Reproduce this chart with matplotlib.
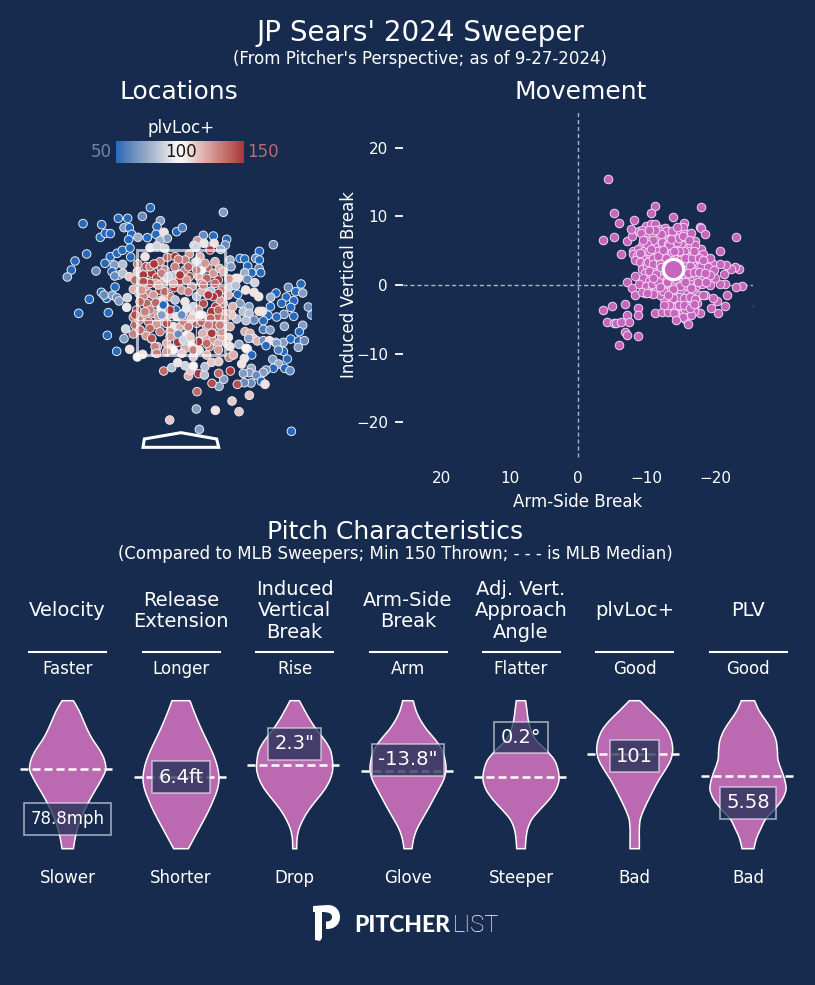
import matplotlib
matplotlib.use("Agg")
import matplotlib.pyplot as plt
import numpy as np
import seaborn as sns
from matplotlib.path import Path
from matplotlib.patches import PathPatch, Polygon

BG = "#162b4e"
PINK = "#bb69b0"
DOT = "#c766bf"

# pitch locations, in positions (y runs downward)
loc_x = [
  99, 155, 205, 233, 277, 301, 331, 520, 222, 238, 321, 380,
  397, 151, 166, 181, 245, 236, 264, 292, 318, 342, 352, 330,
  110, 75, 64, 52, 138, 165, 181, 201, 217, 240, 242, 193,
  186, 207, 194, 218, 219, 195, 154, 118, 170, 187, 200, 207,
  162, 86, 175, 230, 232, 172, 227, 222, 200, 239, 262, 278,
  460, 490, 530, 526, 442, 432, 462, 492, 438, 512, 480, 300,
  320, 344, 285, 628, 670, 540, 570, 584, 617, 628, 543, 593,
  627, 632, 605, 584, 592, 614, 565, 557, 540, 557, 563, 587,
  612, 626, 678, 662, 715, 753, 737, 758, 709, 731, 695, 661,
  722, 775, 785, 702, 731, 680, 654, 637, 627, 597, 570, 580,
  597, 612, 560, 588, 640, 703, 758, 748, 640, 660, 585, 600,
  610, 596, 622, 640, 658, 677, 700, 722, 745, 763, 745, 680,
  648, 700, 685, 567, 592, 588, 605, 668, 712, 686, 704, 720,
  670, 648, 640, 604, 598, 580, 619, 634, 645, 603, 583, 575,
  583, 562, 541, 521, 506, 507, 486, 445, 463, 415, 421, 341,
  365, 383, 405, 430, 465, 485, 506, 537, 550, 441, 439, 496,
  546, 567, 598, 359, 448, 724,
  352, 375, 418, 405, 385, 435, 450, 263, 288, 314, 334, 305,
  280, 262, 238, 255, 274, 294, 320, 340, 250, 267, 295, 329,
  318, 285, 372, 388, 418, 445, 473, 455, 490, 508, 520, 505,
  537, 470, 383, 365, 405, 375, 350, 370, 395, 425, 455, 480,
  495, 483, 515, 535, 473, 498, 440, 415, 360, 335, 310, 280,
  290, 317, 345, 375, 405, 430, 460, 497, 485, 520, 548, 545,
  528, 505, 265, 250, 285, 310, 333, 340, 378, 380, 355, 400,
  430, 458, 482, 295, 320, 345, 255, 268, 370, 390, 415, 440,
  470, 495, 520, 385, 360, 250, 270, 288, 305, 322, 316, 350,
  365, 383, 405, 425, 447, 447, 470, 488, 488, 478, 505, 505,
  535, 515, 540, 458, 410, 370, 400, 430, 470, 440, 330, 410,
  300, 345, 325, 345, 270, 300, 325, 350, 400, 425, 455, 505,
  525, 470, 430, 395, 350, 330, 300, 415, 465, 495, 440, 510,
  455, 410, 445, 360, 515, 530, 312, 335, 280, 300, 275, 355,
  390, 280, 460, 505, 490, 475, 260, 255, 285, 450, 395, 335,
  360, 270, 305, 315, 320, 445, 420, 485, 540, 510, 475, 415,
]
loc_y = [
  341, 344, 325, 325, 319, 293, 332, 307, 353, 353, 350, 365,
  353, 382, 370, 371, 373, 389, 382, 383, 373, 367, 385, 392,
  432, 453, 480, 501, 483, 460, 440, 430, 421, 414, 441, 465,
  485, 495, 498, 463, 490, 531, 547, 568, 565, 556, 563, 573,
  555, 610, 608, 592, 563, 676, 657, 686, 724, 718, 741, 733,
  376, 378, 388, 405, 392, 406, 400, 400, 412, 418, 420, 413,
  408, 415, 440, 424, 404, 450, 445, 447, 445, 450, 470, 468,
  475, 488, 488, 488, 508, 518, 505, 505, 530, 527, 553, 540,
  547, 560, 549, 562, 532, 522, 545, 549, 561, 572, 580, 590,
  592, 591, 615, 613, 619, 621, 616, 604, 604, 590, 580, 605,
  610, 630, 627, 632, 632, 649, 646, 665, 658, 660, 665, 670,
  685, 685, 693, 692, 692, 697, 697, 687, 693, 692, 712, 700,
  707, 724, 720, 703, 717, 715, 735, 748, 747, 762, 775, 782,
  775, 780, 787, 775, 788, 790, 796, 814, 823, 819, 818, 762,
  745, 823, 783, 808, 790, 829, 820, 791, 795, 798, 782, 783,
  773, 758, 767, 768, 770, 757, 755, 742, 735, 845, 897, 901,
  873, 905, 856, 930, 958, 964,
  442, 440, 432, 450, 448, 458, 440, 462, 470, 463, 475, 490,
  497, 485, 500, 510, 517, 518, 503, 518, 538, 550, 549, 540,
  520, 530, 533, 513, 500, 498, 473, 480, 490, 475, 485, 510,
  507, 505, 490, 497, 480, 470, 505, 520, 540, 530, 520, 545,
  520, 543, 540, 555, 555, 558, 560, 545, 560, 570, 555, 560,
  580, 578, 590, 570, 575, 590, 581, 590, 605, 580, 590, 615,
  610, 620, 608, 622, 615, 610, 595, 585, 600, 620, 615, 610,
  615, 617, 625, 635, 643, 638, 645, 630, 650, 650, 652, 640,
  650, 645, 655, 673, 665, 672, 660, 677, 687, 710, 728, 700,
  715, 697, 715, 700, 693, 720, 690, 670, 693, 710, 700, 720,
  682, 680, 650, 670, 675, 720, 690, 740, 735, 455, 455, 510,
  470, 480, 525, 545, 575, 600, 620, 640, 635, 625, 635, 600,
  625, 700, 720, 730, 725, 665, 655, 470, 460, 455, 480, 570,
  545, 595, 600, 680, 665, 700, 462, 490, 495, 520, 540, 500,
  495, 515, 525, 550, 560, 555, 600, 615, 605, 615, 615, 615,
  600, 660, 685, 710, 730, 695, 680, 670, 710, 645, 645, 650,
]
loc_plv = [
  55, 55, 55, 55, 70, 55, 75, 75, 75, 55, 55, 55,
  65, 55, 55, 55, 55, 55, 80, 55, 55, 105, 75, 80,
  55, 55, 55, 70, 70, 55, 55, 55, 55, 55, 55, 75,
  60, 60, 70, 85, 85, 55, 55, 55, 55, 75, 70, 75,
  70, 55, 55, 95, 90, 55, 90, 75, 55, 105, 100, 105,
  70, 55, 55, 70, 120, 90, 95, 105, 90, 80, 140, 95,
  90, 90, 105, 55, 70, 80, 55, 60, 70, 55, 75, 60,
  70, 55, 55, 80, 70, 90, 105, 105, 90, 85, 55, 105,
  105, 105, 55, 80, 70, 55, 55, 75, 55, 55, 55, 55,
  60, 70, 70, 70, 55, 55, 60, 105, 105, 75, 75, 85,
  85, 70, 85, 85, 55, 75, 75, 55, 65, 75, 115, 115,
  110, 75, 115, 70, 105, 75, 75, 55, 55, 70, 75, 75,
  55, 55, 65, 80, 115, 100, 55, 75, 55, 80, 55, 70,
  55, 70, 75, 80, 75, 75, 70, 60, 105, 70, 70, 105,
  105, 135, 140, 75, 130, 75, 135, 145, 85, 115, 110, 130,
  85, 105, 90, 100, 85, 110, 110, 125, 115, 130, 75, 105,
  110, 110, 110, 110, 75, 55,
  130, 145, 120, 125, 125, 130, 115, 125, 135, 145, 135, 145,
  145, 110, 110, 130, 145, 130, 135, 120, 115, 120, 125, 145,
  120, 120, 145, 145, 135, 115, 130, 100, 120, 115, 115, 145,
  120, 130, 90, 85, 125, 125, 105, 115, 120, 120, 125, 145,
  130, 85, 125, 115, 145, 145, 85, 125, 125, 105, 120, 125,
  130, 130, 120, 85, 105, 90, 135, 145, 145, 125, 115, 110,
  115, 130, 145, 130, 120, 125, 100, 55, 55, 105, 110, 115,
  105, 105, 130, 130, 120, 125, 130, 125, 105, 115, 120, 135,
  125, 130, 125, 70, 120, 125, 130, 120, 140, 120, 125, 115,
  105, 145, 115, 100, 145, 105, 120, 145, 120, 125, 115, 120,
  105, 115, 115, 115, 100, 100, 90, 110, 115, 95, 125, 120,
  125, 125, 115, 130, 130, 125, 120, 135, 125, 110, 130, 130,
  120, 130, 125, 110, 120, 125, 130, 130, 120, 115, 125, 120,
  115, 95, 120, 120, 120, 110, 145, 125, 145, 135, 120, 90,
  145, 135, 125, 145, 145, 145, 145, 135, 125, 100, 70, 75,
  145, 130, 135, 125, 125, 145, 110, 145, 105, 125, 125, 125,
]

# sweeper movement, inches
arm_side_break = [
  -4.3, -11.3, -18.0, -5.3, -10.7, -5.9, -8.1, -13.8, -15.4, -17.8, -18.0, -18.6,
  -23.0, -3.7, -5.2, -7.1, -7.8, -7.7, -20.8, -6.2, -7.2, -8.3, -7.8, -8.3,
  -9.7, -6.8, -4.9, -3.6, -8.8, -7.1, -8.8, -11.2, -12.3, -13.1, -4.2, -5.2,
  -5.6, -6.3, -7.4, -6.8, -7.2, -8.7, -5.9, -15.6, -16.0, -17.8, -20.5, -19.4,
  -21.4, -21.7, -20.3, -19.7, -18.5, -24.0, -23.0, -21.4, -20.8, -21.3, -23.5, -22.9,
  -22.4, -21.6, -20.7, -19.5, -20.0, -18.8, -26.3,
  -9.9, -10.6, -11.2, -12.0, -12.7, -13.2, -14.6, -15.3, -16.0, -8.9, -9.3, -11.8,
  -9.2, -10.2, -10.9, -11.6, -12.6, -13.3, -14.1, -15.0, -15.9, -16.3, -17.1, -9.7,
  -9.4, -10.5, -11.3, -12.2, -13.0, -14.2, -15.2, -16.1, -17.2, -18.0, -8.0, -8.8,
  -8.0, -8.6, -9.5, -10.4, -11.2, -12.2, -13.1, -14.3, -15.0, -16.0, -17.0, -18.3,
  -8.3, -9.1, -9.9, -10.8, -11.7, -12.5, -15.0, -15.8, -16.6, -17.6, -18.6, -19.2,
  -9.3, -10.0, -11.0, -11.8, -15.7, -16.4, -17.3, -18.0, -19.0, -19.8, -9.8, -10.6,
  -9.5, -10.3, -11.1, -12.1, -13.0, -13.8, -14.8, -15.7, -16.6, -17.4, -18.4, -19.2,
  -8.9, -9.9, -10.8, -11.6, -12.5, -13.4, -14.4, -15.4, -16.3, -17.2, -18.1, -19.2,
  -9.4, -10.6, -11.4, -12.3, -13.3, -14.2, -15.0, -15.9, -16.8, -17.6, -18.2, -12.8,
  -12.8, -13.6, -14.4, -15.0, -15.7, -16.6, -17.4, -14.2, -15.2, -16.0, -17.0, -13.1,
  -14.6, -15.3, -16.2, -17.0, -15.8, -16.5, -14.9, -15.6, -13.5, -12.6, -11.9, -11.0,
  -10.2, -10.9, -11.5, -12.3, -13.1, -14.0, -14.9, -15.5, -16.3, -17.1, -12.7, -14.5,
  -9.6, -10.3, -11.0, -11.9, -12.9, -13.7, -14.7, -15.6, -16.7, -17.6, -18.2, -9.0,
  -10.4, -11.4, -12.1, -12.6, -15.2, -16.0, -16.9, -17.7, -18.5, -10.8, -11.6, -12.4,
  -13.7, -14.1, -14.9, -15.6, -16.5, -17.5, -18.7, -10.0, -13.0, -13.9, -14.7, -15.5,
  -16.3, -17.1, -13.9, -14.7, -15.5, -16.3, -13.3, -12.5, -14.0, -15.3, -11.0, -10.0,
  -12.9, -13.7, -14.5, -15.4, -16.5, -13.3, -14.0, -14.8, -12.1, -11.3, -10.4, -9.5,
  -10.7, -11.7, -12.4, -13.5, -15.3, -16.2, -17.0, -13.2, -12.0, -10.9, -16.9, -14.3,
]
vertical_break = [
  15.4, 11.5, 11.3, 10.5, 10.5, 9.1, 9.4, 9.9, 9.1, 8.4, 8.3, 7.5,
  7.0, 6.5, 7.0, 6.4, 7.1, 8.1, 4.9, 4.5, 0.5, 1.3, -0.4, -1.4,
  -1.2, -2.7, -3.1, -3.7, -3.3, -4.4, -4.4, -4.1, -4.0, -4.0, -5.4, -5.6,
  -5.6, -5.4, -5.4, -6.8, -7.3, -7.5, -8.7, -5.0, -5.7, -4.1, -4.1, -3.3,
  -3.0, -1.5, -2.4, -1.9, -1.4, -0.2, -0.3, 0.1, 0.1, 1.6, 2.3, 2.6,
  2.4, 2.9, 3.0, 3.2, 1.0, 1.7, -3.0,
  8.6, 8.9, 8.9, 8.2, 8.3, 7.6, 7.8, 8.4, 7.4, 7.8, 8.0, 7.9,
  7.6, 7.2, 7.4, 6.7, 7.2, 6.6, 7.0, 6.5, 6.9, 6.2, 6.4, 6.6,
  5.9, 6.0, 5.7, 5.6, 5.2, 5.5, 5.9, 5.4, 5.2, 5.2, 4.9, 5.2,
  4.5, 4.2, 4.4, 4.7, 4.4, 4.5, 4.0, 4.5, 4.3, 4.1, 4.7, 4.5,
  3.6, 3.4, 3.0, 3.7, 3.4, 3.5, 3.5, 3.0, 3.4, 3.8, 3.2, 3.9,
  2.4, 2.7, 2.2, 1.9, 2.2, 2.8, 2.2, 2.7, 2.6, 2.2, 1.7, 1.4,
  1.0, 0.6, 1.2, 1.0, 0.9, 1.3, 0.7, 1.1, 0.6, 1.3, 1.0, 1.4,
  0.2, -0.1, -0.4, 0.0, -0.5, -0.1, 0.3, -0.3, 0.2, -0.2, 0.1, 0.0,
  -1.0, -1.2, -0.9, -1.4, -1.0, -1.4, -0.9, -1.3, -1.0, -1.4, -1.5, -1.7,
  -2.0, -2.5, -2.2, -2.7, -2.3, -2.2, -2.6, -3.2, -3.3, -3.0, -3.4, -1.9,
  -3.7, -3.9, -3.7, -3.8, -4.3, -4.3, -3.0, -3.5, -0.7, -2.0, -1.4, -1.3,
  3.3, 4.0, 5.0, 6.2, 6.0, 3.9, 3.6, 5.0, 6.1, 5.8, 4.9, 6.3,
  5.0, 4.9, 3.0, 3.0, 3.9, 4.8, 4.9, 3.9, 3.9, 4.0, 3.7, 4.7,
  2.1, 1.6, 2.6, 0.3, 1.6, 1.7, 1.9, 1.9, 1.8, 0.2, 0.4, -0.9,
  0.1, 0.9, -0.2, 0.4, -0.4, 0.5, 0.5, -1.1, 0.4, -0.6, -1.7, -1.9,
  -1.8, -2.0, -1.9, -2.9, -2.9, -3.3, -2.9, -2.9, -4.1, -4.6, 6.5, 6.0,
  7.9, 7.8, 8.5, 7.5, 7.6, 5.9, 5.0, 6.8, 7.5, 8.0, 8.0, 6.6,
  5.3, 4.2, 5.1, 6.7, 7.1, 6.6, 5.0, -1.5, -0.3, 1.0, -2.8, -5.1,
]
avg_break = -13.8
avg_vertical = 2.3

headers = ["Velocity", "Release\nExtension", "Induced\nVertical\nBreak", "Arm-Side\nBreak",
           "Adj. Vert.\nApproach\nAngle", "plvLoc+", "PLV"]
top_words = ["Faster", "Longer", "Rise", "Arm", "Flatter", "Good", "Good"]
bottom_words = ["Slower", "Shorter", "Drop", "Glove", "Steeper", "Bad", "Bad"]
value_labels = ["78.8mph", "6.4ft", '2.3"', '-13.8"', "0.2°", "101", "5.58"]
median_pos = [0.538, 0.484, 0.565, 0.527, 0.484, 0.642, 0.491]
value_pos = [0.20, 0.484, 0.708, 0.60, 0.752, 0.625, 0.31]

# violin widths, top to bottom at 16 even steps
widths = [
  [17, 34, 47, 60, 76, 96, 110, 114, 101, 84, 67, 52, 39, 29, 22, 17],
  [27, 38, 50, 63, 77, 91, 103, 111, 114, 109, 98, 85, 70, 54, 38, 22],
  [14, 30, 47, 67, 90, 107, 113, 114, 106, 90, 67, 44, 26, 13, 7, 6],
  [16, 24, 38, 58, 83, 102, 111, 114, 107, 92, 76, 60, 43, 27, 17, 12],
  [14, 18, 22, 30, 45, 75, 100, 111, 114, 105, 85, 58, 33, 20, 15, 13],
  [16, 45, 75, 98, 110, 114, 108, 92, 73, 57, 42, 28, 17, 14, 14, 14],
  [20, 33, 53, 72, 84, 88, 90, 100, 110, 114, 103, 80, 53, 38, 25, 18],
]
centers = [67.7, 181, 294.7, 408, 521, 634.7, 748]

W, H = 815, 985
plt.rcParams["font.family"] = "DejaVu Sans"
fig = plt.figure(figsize=(W / 100, H / 100), dpi=100, facecolor=BG)


def px_axes(left, top, right, bottom):
  ax = fig.add_axes([left / W, 1 - bottom / H, (right - left) / W, (bottom - top) / H])
  ax.set_facecolor("none")
  return ax


def smooth_side(xs, ys):
  # catmull-rom through the read widths, as bezier segments
  pts = np.column_stack([xs, ys])
  verts, codes = [], []
  for i in range(len(pts) - 1):
    p0 = pts[max(i - 1, 0)]
    p1 = pts[i]
    p2 = pts[i + 1]
    p3 = pts[min(i + 2, len(pts) - 1)]
    verts += [p1 + (p2 - p0) / 6, p2 - (p3 - p1) / 6, p2]
    codes += [Path.CURVE4] * 3
  return verts, codes


# page-level text, in pixel positions
page = px_axes(0, 0, W, H)
page.set_xlim(0, W)
page.set_ylim(H, 0)
page.axis("off")
page.set_zorder(10)
page.text(420, 33, "JP Sears' 2024 Sweeper", color="white", fontsize=20, ha="center", va="center")
page.text(420, 59, "(From Pitcher's Perspective; as of 9-27-2024)", color="white", fontsize=12, ha="center", va="center")
page.text(179, 92, "Locations", color="white", fontsize=18, ha="center", va="center")
page.text(581, 92, "Movement", color="white", fontsize=18, ha="center", va="center")
page.text(181, 128, "plvLoc+", color="white", fontsize=12, ha="center", va="center")
page.text(395, 532, "Pitch Characteristics", color="white", fontsize=18, ha="center", va="center")
page.text(395, 554, "(Compared to MLB Sweepers; Min 150 Thrown; - - - is MLB Median)", color="white", fontsize=12, ha="center", va="center")

# location plot
loc = px_axes(50, 110, 311.7, 460)
loc.set_xlim(0, 785)
loc.set_ylim(1050, 0)
loc.axis("off")
loc.scatter(loc_x, loc_y, c=loc_plv, cmap="vlag", vmin=60, vmax=140, s=38, edgecolor="#e8eaf0", linewidth=0.7, zorder=2)
for xs, ys in [([262, 525, 525, 262, 262], [420, 420, 735, 735, 420]),
               ([350, 350], [420, 735]), ([437, 437], [420, 735]),
               ([262, 525], [522, 522]), ([262, 525], [630, 630])]:
  lw = 2.2 if len(xs) == 5 else 1.0
  loc.plot(xs, ys, color="white", alpha=0.65, lw=lw, zorder=3)
loc.add_patch(Polygon([(279, 1012), (283, 987), (393, 968), (500, 987), (506, 1012)], closed=True,
                      fill=False, edgecolor="white", lw=2.2, zorder=3, clip_on=False))

# plvLoc+ colour bar
bar = px_axes(116, 141, 244, 163)
bar.imshow(np.linspace(0, 1, 256)[None, :], cmap="vlag", aspect="auto", vmin=0, vmax=1, interpolation="bilinear")
bar.axis("off")
page.text(112, 152, "50", color="#6f86ab", fontsize=12, ha="right", va="center")
page.text(181, 152, "100", color="#161616", fontsize=12, ha="center", va="center")
page.text(247, 152, "150", color="#b56e72", fontsize=12, ha="left", va="center")

# movement plot
mv = px_axes(403, 110, 753.3, 460)
mv.set_xlim(25.6, -25.6)
mv.set_ylim(-25.5, 25.5)
mv.axhline(0, color="#aab3c2", lw=1, ls=(0, (3, 2)), zorder=1)
mv.plot([0, 0], [-25, 25.5], color="#aab3c2", lw=1, ls=(0, (3, 2)), zorder=1)
mv.scatter(arm_side_break, vertical_break, s=38, color=DOT, edgecolor="#f3d4ef", linewidth=0.7, zorder=2)
mv.scatter([avg_break], [avg_vertical], s=215, color=DOT, edgecolor="white", linewidth=2.4, zorder=3)
mv.set_xticks([20, 10, 0, -10, -20], ["20", "10", "0", "−10", "−20"])
mv.set_yticks([20, 10, 0, -10, -20], ["20", "10", "0", "−10", "−20"])
mv.tick_params(axis="x", length=0, colors="white", labelsize=11, pad=8)
mv.tick_params(axis="y", length=5.8, width=1.3, colors="white", labelsize=11, pad=5)
for spine in mv.spines.values():
  spine.set_visible(False)
page.text(349, 285, "Induced Vertical Break", color="white", fontsize=12, rotation=90, ha="center", va="center")
page.text(578, 502, "Arm-Side Break", color="white", fontsize=12, ha="center", va="center")

# violins
for i, c in enumerate(centers):
  page.text(c, 611, headers[i], color="white", fontsize=14, ha="center", va="center", linespacing=1.15)
  page.plot([c - 38.5, c + 38.5], [652, 652], color="white", lw=1.5)
  page.text(c, 669, top_words[i], color="white", fontsize=12, ha="center", va="center")
  page.text(c, 878, bottom_words[i], color="white", fontsize=12, ha="center", va="center")

  vax = px_axes(c - 48, 700.7, c + 48, 848.7)
  vax.set_xlim(-48, 48)
  vax.set_ylim(0, 1)
  vax.axis("off")
  half = np.array(widths[i]) / 114 * 38
  levels = np.linspace(1, 0, len(half))
  right_v, right_c = smooth_side(half, levels)
  left_v, left_c = smooth_side(-half[::-1], levels[::-1])
  verts = [(half[0], 1)] + right_v + [(-half[-1], 0)] + left_v + [(half[0], 1)]
  codes = [Path.MOVETO] + right_c + [Path.LINETO] + left_c + [Path.LINETO]
  vax.add_patch(PathPatch(Path(verts, codes), facecolor=PINK, edgecolor="white", lw=1.1, clip_on=False, zorder=1))
  vax.plot([-47.5, 47.5], [median_pos[i], median_pos[i]], color="white", lw=1.8, ls=(0, (3.2, 1.6)), zorder=2)
  size = 12 if i == 0 else 14
  pad = 0.4 if i == 0 else 0.32
  vax.text(0, value_pos[i], value_labels[i], color="white", fontsize=size, ha="center", va="center", zorder=4,
           bbox=dict(boxstyle=f"square,pad={pad}", facecolor=BG, alpha=0.72, edgecolor="#e4e6ee", linewidth=1.1))

# logo mark
mark = Path(
  [(313, 906), (328, 905), (336, 905), (340, 911), (340, 917), (340, 924), (335, 929), (327, 929),
   (326, 929), (326, 921.5), (330, 921.5), (332, 920), (332, 917), (332, 914), (330, 912), (322, 912),
   (322, 938), (320, 941), (315, 940), (315, 912), (313, 912), (313, 906)],
  [Path.MOVETO, Path.LINETO, Path.CURVE4, Path.CURVE4, Path.CURVE4, Path.CURVE4, Path.CURVE4, Path.CURVE4,
   Path.LINETO, Path.LINETO, Path.CURVE4, Path.CURVE4, Path.CURVE4, Path.CURVE4, Path.CURVE4, Path.CURVE4,
   Path.LINETO, Path.LINETO, Path.LINETO, Path.LINETO, Path.LINETO, Path.CLOSEPOLY],
)
page.add_patch(PathPatch(mark, facecolor="white", edgecolor="none"))
page.text(354, 925, "PITCHER", color="white", fontsize=16.5, family="Lato", weight="black", ha="left", va="center")
page.text(453, 925, "LIST", color="white", fontsize=17, family="Roboto", weight="light", ha="left", va="center")

fig.savefig("out.png", dpi=100, facecolor=BG)
plt.close(fig)
